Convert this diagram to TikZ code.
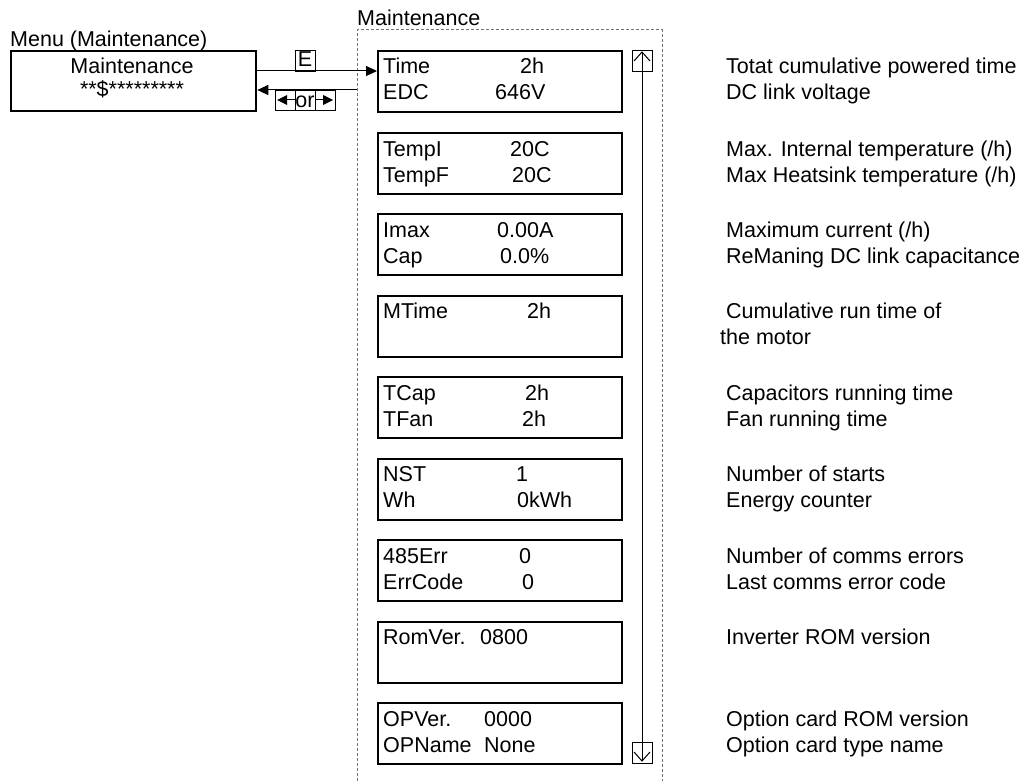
\documentclass[tikz,border=0pt]{standalone}
\usepackage{fontspec}
\setmainfont{Liberation Sans}
\usetikzlibrary{arrows.meta}
\newcommand\dfont{\fontsize{21.5}{25}\selectfont}
\begin{document}
\begin{tikzpicture}[x=1pt,y=-1pt,
  txt/.style={anchor=base west, inner sep=0pt, font=\dfont},
  ctxt/.style={anchor=base, inner sep=0pt, font=\dfont},
  lcd/.style={draw, line width=2.3pt, inner sep=0pt, anchor=north west},
  dbox/.style={lcd, minimum width=244pt, minimum height=61pt},
  keybox/.style={draw, line width=0.9pt, inner sep=0pt, anchor=north west},
  arr/.style={line width=1pt, -{Triangle[length=11pt,width=10pt]}},
  thin/.style={line width=1pt},
  frame/.style={draw=black!55, line width=1pt, dash pattern=on 3pt off 2pt}
]
\useasboundingbox (0,0) rectangle (1027,781);

% container
\draw[frame] (357,781) -- (357,30) -- (662,30) -- (662,781);
\node[txt] (mtitle) at (357,26) {Maintenance};

% menu box
\node[txt] (menulabel) at (10,47) {Menu (Maintenance)};
\node[lcd, minimum width=245pt, minimum height=60pt] (menu) at (10,50) {};
\node[ctxt] (menu1) at (132,74) {Maintenance};
\node[ctxt] (menu2) at (132,97) {**\$*********};

% display boxes
\node[dbox] (b1) at (377,50) {};
\node[dbox] (b2) at (377,131.5) {};
\node[dbox] (b3) at (377,213) {};
\node[dbox] (b4) at (377,294.5) {};
\node[dbox] (b5) at (377,376) {};
\node[dbox] (b6) at (377,457.5) {};
\node[dbox] (b7) at (377,539) {};
\node[dbox] (b8) at (377,620.5) {};
\node[dbox] (b9) at (377,702) {};

% box texts
\node[txt] at (383,74) {Time};   \node[txt] at (520,74) {2h};
\node[txt] at (383,100) {EDC};   \node[txt] at (495,100) {646V};
\node[txt] at (383,156) {TempI}; \node[txt] at (510,156) {20C};
\node[txt] at (383,182) {TempF}; \node[txt] at (512,182) {20C};
\node[txt] at (383,237) {Imax};  \node[txt] at (497,237) {0.00A};
\node[txt] at (383,263) {Cap};   \node[txt] at (500,263) {0.0\%};
\node[txt] at (383,318) {MTime}; \node[txt] at (527,318) {2h};
\node[txt] at (383,400) {TCap};  \node[txt] at (525,400) {2h};
\node[txt] at (383,426) {TFan};  \node[txt] at (522,426) {2h};
\node[txt] at (383,481) {NST};   \node[txt] at (516,481) {1};
\node[txt] at (383,507) {Wh};    \node[txt] at (517,507) {0kWh};
\node[txt] at (383,563) {485Err};  \node[txt] at (519,563) {0};
\node[txt] at (383,589) {ErrCode}; \node[txt] at (522,589) {0};
\node[txt] at (383,644) {RomVer.}; \node[txt] at (480,644) {0800};
\node[txt] at (383,726) {OPVer.};  \node[txt] at (484,726) {0000};
\node[txt] at (383,752) {OPName};  \node[txt] at (484,752) {None};

% descriptions
\node[txt] at (726,74) {Totat cumulative powered time};
\node[txt] at (726,100) {DC link voltage};
\node[txt] at (726,156) {Max. Internal temperature (/h)};
\node[txt] at (726,182) {Max Heatsink temperature (/h)};
\node[txt] at (726,237) {Maximum current (/h)};
\node[txt] at (726,263) {ReManing DC link capacitance};
\node[txt] at (726,318) {Cumulative run time of};
\node[txt] at (720,344) {the motor};
\node[txt] at (726,400) {Capacitors running time};
\node[txt] at (726,426) {Fan running time};
\node[txt] at (726,481) {Number of starts};
\node[txt] at (726,507) {Energy counter};
\node[txt] at (726,563) {Number of comms errors};
\node[txt] at (726,589) {Last comms error code};
\node[txt] at (726,644) {Inverter ROM version};
\node[txt] at (726,726) {Option card ROM version};
\node[txt] at (726,752) {Option card type name};

% arrows between menu and list
\draw[arr] (menu.east |- 0,71) -- (b1.west |- 0,71);
\coordinate (ret) at (357,90);
\draw[arr] (ret) -- (menu.east |- ret);

% key labels
\node[keybox, minimum width=20pt, minimum height=21pt] (ekey) at (295,50) {};
\node[ctxt] at (305,67) {E};
\node[keybox, minimum width=60pt, minimum height=20pt] (orkey) at (275,90) {};
\draw[thin] (295,90) -- (295,110);
\draw[thin] (315,90) -- (315,110);
\fill (277,100) -- (287,95) -- (287,105) -- cycle;
\draw[thin] (287,100) -- (295,100);
\draw[thin] (315,100) -- (323,100);
\fill (333,100) -- (323,95) -- (323,105) -- cycle;
\node[ctxt] at (305,107) {or};

% scroll bar
\node[keybox, minimum width=20pt, minimum height=21pt] (up) at (632,50) {};
\node[keybox, minimum width=20pt, minimum height=21pt] (down) at (632,742) {};
\draw[thin] (up.south) -- (down.north);
\draw[thin] (642,71) -- (642,52);
\draw[thin] (634,61) -- (642,52) -- (650,61);
\draw[thin] (642,742) -- (642,761);
\draw[thin] (634,752) -- (642,761) -- (650,752);
\end{tikzpicture}
\end{document}
